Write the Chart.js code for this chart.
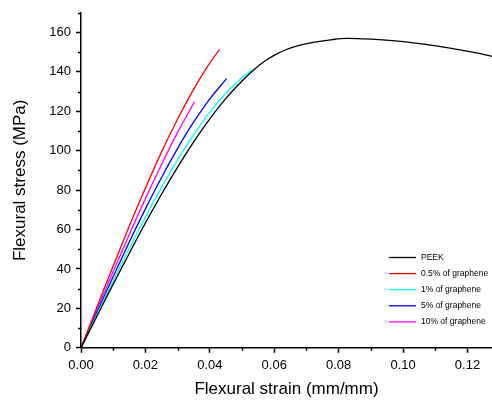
<!DOCTYPE html>
<html>
<head>
<meta charset="utf-8">
<script src="https://cdn.jsdelivr.net/npm/chart.js@4.4.0/dist/chart.umd.min.js"></script>
<style>
  html, body { margin: 0; padding: 0; background: #fff; }
  canvas { display: block; }
</style>
</head>
<body>
<canvas id="chart" width="492" height="400"></canvas>
<script>
/* ── Data ────────────────────────────────────────────────────────────── */
const seriesNames = ['PEEK', '0.5% of graphene', '1% of graphene', '5% of graphene', '10% of graphene'];
const seriesColors = ['#000000', '#ff0000', '#00ffff', '#0000ff', '#ff00ff'];

const peekStrain = [0, 0.005, 0.01, 0.015, 0.02, 0.025, 0.03, 0.035, 0.04, 0.045, 0.05, 0.0535, 0.057, 0.0605, 0.064, 0.068, 0.072, 0.0775, 0.0825, 0.0875, 0.0925, 0.1, 0.1075, 0.115, 0.1215, 0.1276];
const peekStress = [0, 16.2, 32.3, 48.0, 63.3, 77.9, 91.7, 104.5, 116.2, 126.6, 135.4, 140.9, 145.4, 148.9, 151.5, 153.6, 155.0, 156.3, 157.0, 156.8, 156.4, 155.4, 153.8, 151.9, 150.0, 147.9];

const g05Strain = [0, 0.005, 0.01, 0.015, 0.02, 0.025, 0.03, 0.035, 0.039, 0.043];
const g05Stress = [0, 21.0, 41.6, 61.8, 81.1, 99.3, 116.1, 131.3, 142.1, 151.5];

const g1Strain = [0, 0.005, 0.01, 0.015, 0.02, 0.025, 0.03, 0.035, 0.04, 0.045, 0.049, 0.053];
const g1Stress = [0, 17.1, 34.0, 50.5, 66.4, 81.4, 95.5, 108.2, 119.6, 129.3, 135.7, 140.8];

const g5Strain = [0, 0.005, 0.01, 0.015, 0.02, 0.025, 0.03, 0.035, 0.04, 0.0452];
const g5Stress = [0, 18.2, 36.2, 53.7, 70.5, 86.4, 101.2, 114.6, 126.3, 136.6];

const g10Strain = [0, 0.005, 0.01, 0.015, 0.02, 0.025, 0.03, 0.0352];
const g10Stress = [0, 19.5, 38.7, 57.5, 75.7, 93.0, 109.3, 124.8];

const strainSets = [peekStrain, g05Strain, g1Strain, g5Strain, g10Strain];
const stressSets = [peekStress, g05Stress, g1Stress, g5Stress, g10Stress];

const X_MAX = 0.1276;
const Y_MAX = 170;

/* ── Plugins ─────────────────────────────────────────────────────────── */
// short minor ticks between the labelled ones
const minorTicks = {
  id: 'minorTicks',
  afterDraw(chart) {
    const { ctx, scales: { x, y } } = chart;
    ctx.save();
    ctx.strokeStyle = '#000';
    ctx.lineWidth = 1.5;
    ctx.beginPath();
    for (let i = 1; i * 0.01 <= X_MAX; i += 2) {
      const px = Math.round(x.getPixelForValue(i * 0.01)) + 0.5;
      ctx.moveTo(px, y.bottom);
      ctx.lineTo(px, y.bottom + 3);
    }
    for (let v = 10; v <= Y_MAX; v += 20) {
      const py = Math.round(y.getPixelForValue(v)) + 0.5;
      ctx.moveTo(x.left, py);
      ctx.lineTo(x.left - 3, py);
    }
    ctx.stroke();
    ctx.restore();
  }
};

// small legend sitting inside the plot, bottom right
const insideLegend = {
  id: 'insideLegend',
  afterDraw(chart) {
    const { ctx } = chart;
    ctx.save();
    ctx.font = '8.5px "Liberation Sans", Arial, sans-serif';
    ctx.textBaseline = 'middle';
    chart.data.datasets.forEach((ds, i) => {
      const yy = 257.5 + i * 16.1;
      ctx.strokeStyle = ds.borderColor;
      ctx.lineWidth = 1.3;
      ctx.beginPath();
      ctx.moveTo(389, yy);
      ctx.lineTo(416, yy);
      ctx.stroke();
      ctx.fillStyle = '#000';
      ctx.fillText(ds.label, 421, yy);
    });
    ctx.restore();
  }
};

/* ── Chart ───────────────────────────────────────────────────────────── */
const datasets = seriesNames.map((name, i) => ({
  label: name,
  data: strainSets[i].map((s, k) => ({ x: s, y: stressSets[i][k] })),
  borderColor: seriesColors[i],
  borderWidth: 1.3,
  pointRadius: 0,
  showLine: true,
  fill: false,
  cubicInterpolationMode: 'monotone',
}));

const font = '"Liberation Sans", Arial, sans-serif';

new Chart(document.getElementById('chart'), {
  type: 'scatter',
  data: { datasets },
  options: {
    responsive: false,
    animation: false,
    layout: { padding: { top: 10, right: 0, left: 0, bottom: 0 } },
    plugins: { legend: { display: false }, tooltip: { enabled: false } },
    scales: {
      x: {
        type: 'linear',
        min: 0, max: X_MAX,
        afterFit: s => { s.height = 52.2; },
        border: { color: '#000', width: 1.5 },
        grid: { drawOnChartArea: false, drawTicks: true, tickLength: 5, tickColor: '#000', tickWidth: 1.5 },
        ticks: {
          stepSize: 0.02, includeBounds: false, color: '#000', padding: 5,
          font: { family: font, size: 13 },
          callback: v => v.toFixed(2),
        },
        title: {
          display: true, text: 'Flexural strain (mm/mm)', color: '#000',
          font: { family: font, size: 17 }, padding: { top: 0, bottom: 0 },
        },
      },
      y: {
        min: 0, max: Y_MAX,
        afterFit: s => { s.width = 81; },
        border: { color: '#000', width: 1.5 },
        grid: { drawOnChartArea: false, drawTicks: true, tickLength: 5, tickColor: '#000', tickWidth: 1.5 },
        ticks: {
          stepSize: 20, includeBounds: false, color: '#000', padding: 5,
          font: { family: font, size: 13 },
        },
        title: {
          display: true, text: 'Flexural stress (MPa)', color: '#000',
          font: { family: font, size: 17 }, padding: { top: 10, bottom: 0 },
        },
      },
    },
  },
  plugins: [minorTicks, insideLegend],
});
</script>
</body>
</html>
